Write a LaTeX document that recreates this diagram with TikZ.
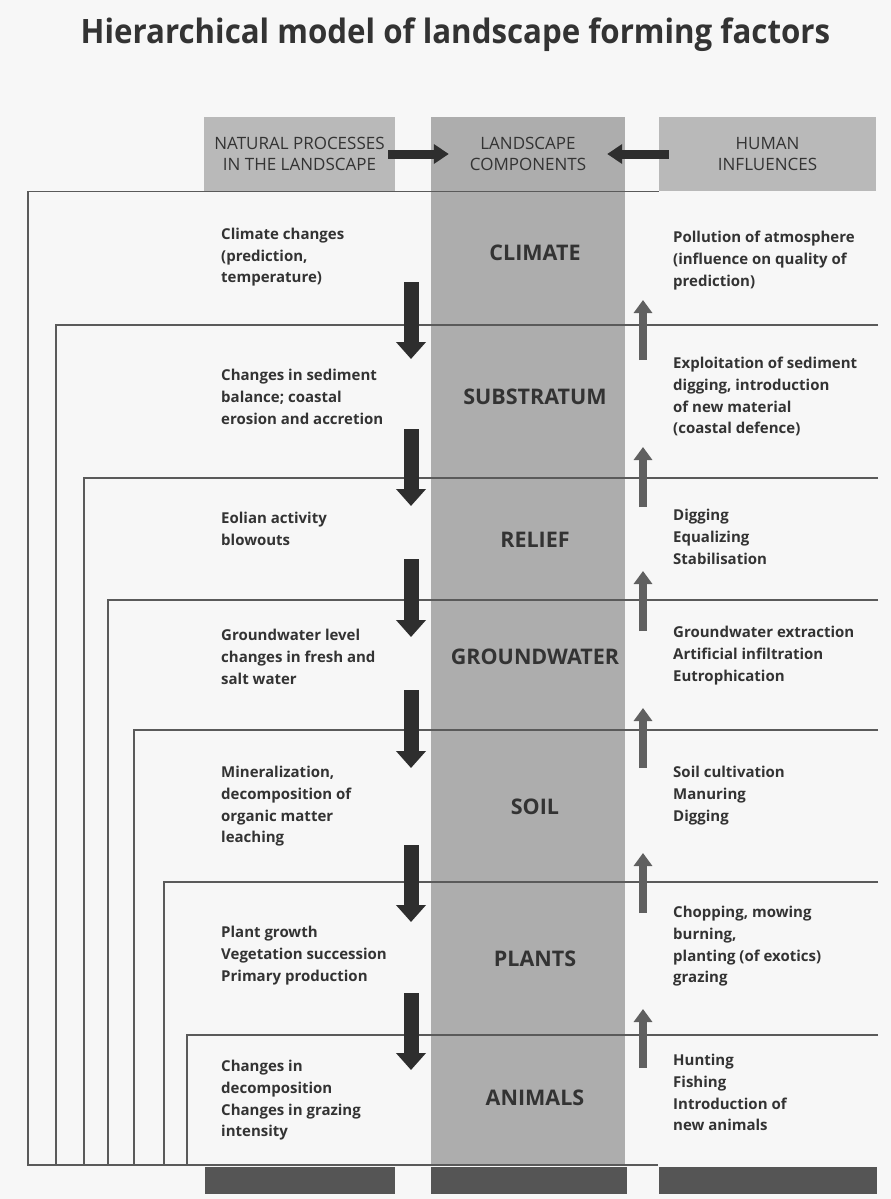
\documentclass[tikz,border=0pt]{standalone}
\usepackage{fontspec}
\setmainfont{Open Sans}
\usetikzlibrary{positioning,arrows.meta}
\definecolor{paper}{HTML}{F7F7F7}
\definecolor{headgray}{HTML}{B9B9B9}
\definecolor{colgray}{HTML}{ADADAD}
\definecolor{bargray}{HTML}{555555}
\definecolor{linegray}{HTML}{5A5A5A}
\definecolor{inkdark}{HTML}{2E2E2E}
\definecolor{inkmid}{HTML}{606060}
\definecolor{textgray}{HTML}{333333}
\tikzset{head box/.style={fill=headgray,inner sep=0,minimum height=74pt,text=textgray,align=center,font=\fontsize{17}{21}\selectfont},
  bar/.style={fill=bargray,inner sep=0,minimum height=27pt},
  comp label/.style={text=textgray,font=\bfseries\fontsize{21.5}{26}\selectfont},
  proc text/.style={anchor=north west,inner sep=0,align=left,text=textgray,font=\bfseries\fontsize{15}{21.7}\selectfont\strut},
  frame line/.style={draw=linegray,line width=1.3pt},
  head arrow/.style={draw=inkdark,line width=9pt,-{Triangle[length=15pt,width=19pt]}},
  down arrow/.style={draw=inkdark,line width=15pt,-{Triangle[length=17pt,width=29pt]}},
  up arrow/.style={draw=inkmid,line width=8pt,-{Triangle[length=13pt,width=18pt]}}}

\begin{document}
\begin{tikzpicture}[x=1pt,y=-1pt]
\fill[paper] (0,0) rectangle (891,1199);
\useasboundingbox (0,0) rectangle (891,1199);
\node[font=\fontsize{33.6}{40}\selectfont\bfseries,text=textgray] (title) at (455.5,35) {\scalebox{0.93}[1]{Hierarchical model of landscape forming factors}};
\node[fill=colgray,inner sep=0,minimum width=194pt,minimum height=1049pt] (components) at (528,641.5) {};
\node[head box,minimum width=191pt] (natural) at (299.5,154) {NATURAL PROCESSES\\IN THE LANDSCAPE};
\node[head box,fill=none,minimum width=194pt] (comphead) at (528,154) {LANDSCAPE\\COMPONENTS};
\node[head box,minimum width=217pt] (human) at (767.5,154) {HUMAN\\INFLUENCES};
\node[bar,minimum width=190pt] (barleft) at (300,1180.5) {};
\node[bar,minimum width=196pt] (barmid) at (529,1180.5) {};
\node[bar,minimum width=218pt] (barright) at (768,1180.5) {};

\draw[frame line] (natural.south -| human.west) -| (28,1165) -- (658,1165);
\foreach \x/\y in {56/325,84/478,108/600,134/730,164/882,187/1035}
  \draw[frame line] (878,\y) -| (\x,1165);

\draw[head arrow] ([xshift=-7pt]natural.east) -- ([xshift=18pt]natural.east -| components.west);
\draw[head arrow] ([xshift=10pt]human.west) -- ([xshift=-18pt]human.west -| components.east);

\foreach \i/\a/\b in {1/282/359,2/429/506,3/559/637,4/690/768,5/845/922,6/993/1070}{
  \coordinate (dtop\i) at (411,\a);
  \coordinate (dtip\i) at (411,\b);
  \draw[down arrow] (dtop\i) -- (dtip\i);}
\foreach \i/\a/\b in {1/360/300,2/507/447,3/631/571,4/768/708,5/913/853,6/1068/1009}{
  \coordinate (ubot\i) at (643,\a);
  \coordinate (utip\i) at (643,\b);
  \draw[up arrow] (ubot\i) -- (utip\i);}

\node[comp label] (climate) at (535,253) {CLIMATE};
\node[comp label] (substratum) at (535,397) {SUBSTRATUM};
\node[comp label] (relief) at (535,540) {RELIEF};
\node[comp label] (groundwater) at (535,657) {GROUNDWATER};
\node[comp label] (soil) at (535,807) {SOIL};
\node[comp label] (plants) at (535,959) {PLANTS};
\node[comp label] (animals) at (535,1098) {ANIMALS};

\node[proc text] (natclimate) at (221,228) {Climate changes\\(prediction,\\temperature)};
\node[proc text] (natsubstratum) at (221,369) {Changes in sediment\\balance; coastal\\erosion and accretion};
\node[proc text] (natrelief) at (221,512) {Eolian activity\\blowouts};
\node[proc text] (natgroundwater) at (221,629) {Groundwater level\\changes in fresh and\\salt water};
\node[proc text] (natsoil) at (221,766) {Mineralization,\\decomposition of\\organic matter\\leaching};
\node[proc text] (natplants) at (221,926) {Plant growth\\Vegetation succession\\Primary production};
\node[proc text] (natanimals) at (221,1060) {Changes in\\decomposition\\Changes in grazing\\intensity};

\node[proc text] (humclimate) at (673,231) {Pollution of atmosphere\\(influence on quality of\\prediction)};
\node[proc text] (humsubstratum) at (673,357) {Exploitation of sediment\\digging, introduction\\of new material\\(coastal defence)};
\node[proc text] (humrelief) at (673,509) {Digging\\Equalizing\\Stabilisation};
\node[proc text] (humgroundwater) at (673,626) {Groundwater extraction\\Artificial infiltration\\Eutrophication};
\node[proc text] (humsoil) at (673,766) {Soil cultivation\\Manuring\\Digging};
\node[proc text] (humplants) at (673,906) {Chopping, mowing\\burning,\\planting (of exotics)\\grazing};
\node[proc text] (humanimals) at (673,1054) {Hunting\\Fishing\\Introduction of\\new animals};
\end{tikzpicture}
\end{document}
